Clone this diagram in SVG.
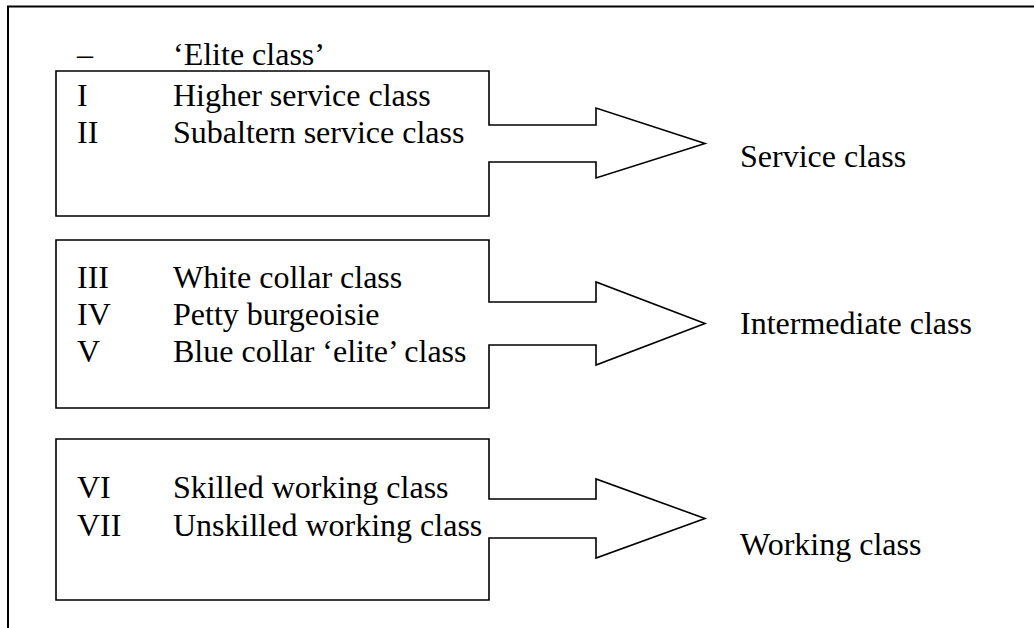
<svg xmlns="http://www.w3.org/2000/svg" width="1034" height="628" viewBox="0 0 1034 628">
  <style>
    text { font-family: "Liberation Serif", "Times New Roman", serif; font-size: 32px; fill: #000; }
    .frame { fill: none; stroke: #000; stroke-width: 2; }
    .shape { fill: #fff; stroke: #000; stroke-width: 1.6; stroke-linejoin: miter; }
  </style>
  <rect width="1034" height="628" fill="#fff"/>

  <!-- outer frame: left and top edges -->
  <path class="frame" d="M8,628 L8,6.5 L1034,6.5"/>

  <!-- header row -->
  <g id="elite">
    <text x="77" y="65">–</text>
    <text x="173" y="65">‘Elite class’</text>
  </g>

  <!-- box with arrow: classes I-II -->
  <g id="group-service">
    <path class="shape" d="M489,125 L489,71 L56,71 L56,216 L489,216 L489,162 L596,162 L596,178 L705,143.5 L596,108 L596,125 Z"/>
    <text x="77" y="106">I</text>
    <text x="173" y="106">Higher service class</text>
    <text x="77" y="143">II</text>
    <text x="173" y="143">Subaltern service class</text>
  </g>

  <!-- box with arrow: classes III-V -->
  <g id="group-intermediate">
    <path class="shape" d="M489,302 L489,240 L56,240 L56,408 L489,408 L489,345 L596,345 L596,365 L705,323.5 L596,282 L596,302 Z"/>
    <text x="77" y="288">III</text>
    <text x="173" y="288">White collar class</text>
    <text x="77" y="325">IV</text>
    <text x="173" y="325">Petty burgeoisie</text>
    <text x="77" y="362">V</text>
    <text x="173" y="362">Blue collar ‘elite’ class</text>
  </g>

  <!-- box with arrow: classes VI-VII -->
  <g id="group-working">
    <path class="shape" d="M489,499 L489,439 L56,439 L56,600 L489,600 L489,538 L596,538 L596,558 L705,518.5 L596,479 L596,499 Z"/>
    <text x="77" y="498">VI</text>
    <text x="173" y="498">Skilled working class</text>
    <text x="77" y="536">VII</text>
    <text x="173" y="536">Unskilled working class</text>
  </g>

  <!-- aggregated class labels -->
  <g id="label-service"><text x="740" y="167">Service class</text></g>
  <g id="label-intermediate"><text x="740" y="334">Intermediate class</text></g>
  <g id="label-working"><text x="740" y="555">Working class</text></g>
</svg>
